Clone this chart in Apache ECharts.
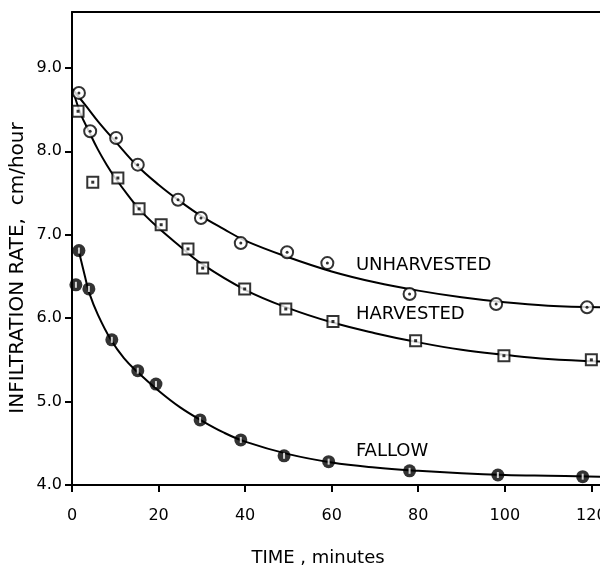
<!DOCTYPE html>
<html>
<head>
<meta charset="utf-8">
<style>
  html, body { margin: 0; padding: 0; background: #fff; }
  #chart { width: 600px; height: 571px; }
</style>
<script src="https://cdn.jsdelivr.net/npm/echarts@6/dist/echarts.min.js"></script>
</head>
<body>
<div id="chart"></div>
<script>
// Infiltration rate vs time, three land treatments, with hand-drawn fit curves.
const FONT = "'DejaVu Sans', sans-serif";
const INK = '#000';

// measured points (minutes, cm/hour)
const minutesU = [1.6, 4.2, 10.2, 15.2, 24.5, 29.8, 39, 49.7, 59, 78, 98, 119];
const rateU = [8.70, 8.24, 8.16, 7.84, 7.42, 7.20, 6.90, 6.79, 6.66, 6.29, 6.17, 6.13];
const minutesH = [1.4, 4.8, 10.6, 15.5, 20.6, 26.8, 30.2, 39.9, 49.4, 60.3, 79.4, 99.8, 120];
const rateH = [8.48, 7.63, 7.68, 7.31, 7.12, 6.83, 6.60, 6.35, 6.11, 5.96, 5.73, 5.55, 5.50];
const minutesF = [0.9, 1.6, 3.9, 9.2, 15.2, 19.4, 29.6, 39, 49, 59.3, 78, 98.4, 118];
const rateF = [6.40, 6.81, 6.35, 5.74, 5.37, 5.21, 4.78, 4.54, 4.35, 4.28, 4.17, 4.12, 4.10];

// fitted curves
const curveUx = [0, 3, 6, 10, 15, 20, 25, 30, 35, 40, 50, 60, 70, 80, 90, 100, 110, 122];
const curveUy = [8.75, 8.56, 8.36, 8.12, 7.83, 7.60, 7.40, 7.22, 7.07, 6.93, 6.73, 6.56, 6.43, 6.33, 6.25, 6.19, 6.15, 6.13];
const curveHx = [0.5, 2, 4, 6, 8, 10, 13, 16, 20, 25, 30, 40, 50, 60, 70, 80, 90, 100, 110, 122];
const curveHy = [8.68, 8.45, 8.23, 8.02, 7.84, 7.68, 7.47, 7.28, 7.08, 6.86, 6.65, 6.34, 6.12, 5.95, 5.82, 5.71, 5.62, 5.56, 5.51, 5.48];
const curveFx = [1.5, 3, 4, 6, 9, 12, 15, 20, 25, 30, 35, 40, 50, 60, 70, 80, 90, 100, 110, 122];
const curveFy = [6.82, 6.50, 6.30, 6.04, 5.74, 5.52, 5.36, 5.13, 4.93, 4.77, 4.63, 4.52, 4.37, 4.27, 4.21, 4.17, 4.14, 4.12, 4.11, 4.10];

const yTicks = [4, 5, 6, 7, 8, 9];
const labels = ['UNHARVESTED', 'HARVESTED', 'FALLOW'];
const labelAt = [[65.6, 6.63], [65.6, 6.04], [65.6, 4.40]];

const zip = (xs, ys) => xs.map((x, i) => [x, ys[i]]);

function curve(xs, ys) {
  return {
    type: 'line', data: zip(xs, ys), smooth: 0.4, showSymbol: false, silent: true,
    lineStyle: { color: INK, width: 2 }, z: 2,
  };
}

function marks(xs, ys, symbol, size, style, z) {
  return {
    type: 'scatter', data: zip(xs, ys), symbol, symbolSize: size,
    itemStyle: style, z: z || 3, silent: true,
  };
}

const chart = echarts.init(document.getElementById('chart'));
chart.setOption({
  animation: false,
  textStyle: { fontFamily: FONT, color: INK },
  grid: { left: 72, right: 0, top: 12, bottom: 86, containLabel: false, outerBoundsMode: 'none' },
  xAxis: [{
    type: 'value', min: 0, max: 122, interval: 20,
    axisLine: { lineStyle: { color: INK, width: 2 } },
    axisTick: { length: 7, lineStyle: { color: INK, width: 2 } },
    axisLabel: { color: INK, fontSize: 16, margin: 23, fontFamily: FONT, showMaxLabel: false },
    splitLine: { show: false },
  }, {
    type: 'value', position: 'top', min: 0, max: 122,
    axisLine: { lineStyle: { color: INK, width: 2 } },
    axisTick: { show: false }, axisLabel: { show: false }, splitLine: { show: false },
  }],
  yAxis: {
    type: 'value', min: 4, max: 9.67,
    axisLine: { lineStyle: { color: INK, width: 2 } },
    axisTick: { length: 7, customValues: yTicks, lineStyle: { color: INK, width: 2 } },
    axisLabel: {
      color: INK, fontSize: 16, margin: 10, fontFamily: FONT,
      customValues: yTicks, formatter: (v) => v.toFixed(1),
    },
    splitLine: { show: false },
  },
  series: [
    curve(curveUx, curveUy),
    curve(curveHx, curveHy),
    curve(curveFx, curveFy),
    // unharvested: open circle with centre dot
    marks(minutesU, rateU, 'circle', 12, { color: '#fff', borderColor: INK, borderWidth: 2 }),
    marks(minutesU, rateU, 'circle', 3, { color: INK }, 4),
    // harvested: open square with centre dot
    marks(minutesH, rateH, 'rect', 11, { color: '#fff', borderColor: INK, borderWidth: 2 }),
    marks(minutesH, rateH, 'rect', 3, { color: INK }, 4),
    // fallow: heavy dark circle with a light slit
    marks(minutesF, rateF, 'circle', 13, { color: INK }),
    marks(minutesF, rateF, 'rect', [2, 6], { color: '#fff' }, 4),
  ],
});

const texts = labels.map((s, i) => {
  const [px, py] = chart.convertToPixel({ gridIndex: 0 }, labelAt[i]);
  return {
    type: 'text', x: px, y: py,
    style: { text: s, font: `18px ${FONT}`, fill: INK, align: 'left', verticalAlign: 'middle' },
  };
});

chart.setOption({
  graphic: texts.concat([
    {
      type: 'text', x: 318, y: 558,
      style: { text: 'TIME , minutes', font: `18px ${FONT}`, fill: INK, align: 'center', verticalAlign: 'middle' },
    },
    {
      type: 'text', x: 18, y: 268, rotation: Math.PI / 2,
      style: { text: 'INFILTRATION RATE,  cm/hour', font: `20px ${FONT}`, fill: INK, align: 'center', verticalAlign: 'middle' },
    },
  ]),
});
</script>
</body>
</html>
